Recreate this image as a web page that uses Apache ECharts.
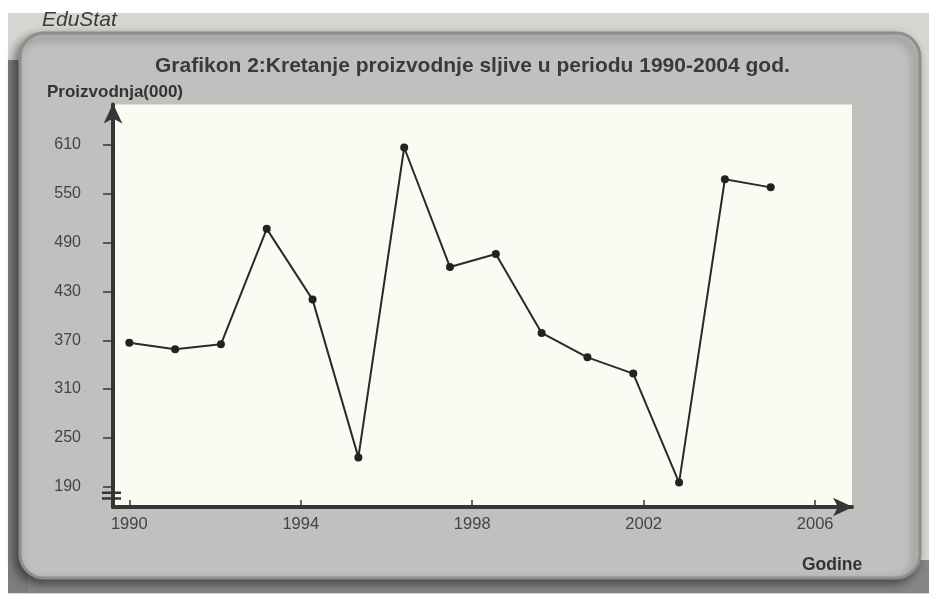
<!DOCTYPE html>
<html>
<head>
<meta charset="utf-8">
<script src="https://cdn.jsdelivr.net/npm/echarts@6/dist/echarts.min.js"></script>
<style>html,body{margin:0;padding:0;background:#fff;}#c{width:929px;height:597px;}</style>
</head>
<body>
<div id="c"></div>
<script>
// ---- data ----
const years = ['1990','1991','1992','1993','1994','1995','1996','1997','1998','1999','2000','2001','2002','2003','2004'];
const production = [367, 359, 365, 507, 420, 226, 607, 460, 476, 379, 349, 329, 195, 568, 558];
const yTickValues = [190, 250, 310, 370, 430, 490, 550, 610];
const xTickValues = [1990, 1994, 1998, 2002, 2006];
const titleText = 'Grafikon 2:Kretanje proizvodnje sljive u periodu 1990-2004 god.';
const yName = 'Proizvodnja(000)';
const xName = 'Godine';
const brand = 'EduStat';

const FONT = '"Liberation Sans", Arial, sans-serif';
const AX = '#363636';
const yMin = 165, yMax = 660;

const chart = echarts.init(document.getElementById('c'), null, {renderer: 'canvas'});

const option = {
  backgroundColor: '#ffffff',
  animation: false,
  title: [
    {text: titleText, left: 155, top: 56, padding: 0, textStyle: {fontFamily: FONT, fontSize: 21, fontWeight: 'bold', color: '#3a3a3a'}},
    {text: yName, left: 47, top: 84, padding: 0, textStyle: {fontFamily: FONT, fontSize: 17, fontWeight: 'bold', color: '#333'}},
    {text: xName, left: 802, top: 556, padding: 0, textStyle: {fontFamily: FONT, fontSize: 17.5, fontWeight: 'bold', color: '#333'}},
    {text: brand, left: 42, top: 10, padding: 0, textStyle: {fontFamily: FONT, fontSize: 21, fontStyle: 'italic', fontWeight: 'normal', color: '#3c3c3c'}}
  ],
  grid: [
    {left: 113, right: 77, top: 104.4, bottom: 90, show: true, backgroundColor: '#fbfaf3', borderWidth: 0},
    {left: 129.3, right: 158.3, top: 104.4, bottom: 90, show: false}
  ],
  xAxis: [
    {
      type: 'value', gridIndex: 0, min: 1989.62, max: 2006.86,
      axisLine: {show: true, lineStyle: {color: AX, width: 4}, symbol: ['none', 'arrow'], symbolSize: [14, 20], symbolOffset: [0, 1]},
      axisTick: {show: true, inside: true, length: 7, lineStyle: {color: AX, width: 1.5}, customValues: xTickValues},
      axisLabel: {show: true, margin: 9, fontFamily: FONT, fontSize: 16.5, color: '#444', customValues: xTickValues, formatter: v => String(v)},
      splitLine: {show: false}
    },
    {
      type: 'category', gridIndex: 1, data: years, boundaryGap: false, show: false
    }
  ],
  yAxis: [
    {
      type: 'value', gridIndex: 0, min: yMin, max: yMax,
      axisLine: {show: true, lineStyle: {color: AX, width: 4}, symbol: ['none', 'arrow'], symbolSize: [14, 20], symbolOffset: [0, 1]},
      axisTick: {show: true, inside: false, length: 10, lineStyle: {color: AX, width: 1.5}, customValues: yTickValues},
      axisLabel: {show: true, margin: 32, fontFamily: FONT, fontSize: 16, color: '#444', customValues: yTickValues},
      splitLine: {show: false}
    },
    {
      type: 'value', gridIndex: 1, min: yMin, max: yMax, show: false, splitLine: {show: false}
    }
  ],
  series: [{
    type: 'line', xAxisIndex: 1, yAxisIndex: 1, data: production,
    symbol: 'circle', symbolSize: 8, showSymbol: true,
    lineStyle: {color: '#2a2a2a', width: 2},
    itemStyle: {color: '#222'}, z: 5
  }],
  graphic: [
    {type: 'rect', z: -10, silent: true, shape: {x: 8, y: 13, width: 921, height: 581}, style: {fill: '#d5d5d1'}},
    {type: 'rect', z: -9, silent: true, shape: {x: 8, y: 560, width: 921, height: 33}, style: {fill: '#858583'}},
    {type: 'rect', z: -9, silent: true, shape: {x: 8, y: 60, width: 20, height: 533}, style: {fill: '#7d7d7b'}},
    {type: 'rect', z: -8, silent: true, shape: {x: 20, y: 33, width: 900, height: 545, r: 24},
      style: {fill: '#c0c0be', stroke: '#8e8e8c', lineWidth: 3, shadowColor: 'rgba(0,0,0,0.45)', shadowBlur: 10, shadowOffsetX: -4, shadowOffsetY: 4}}
  ]
};
chart.setOption(option);

// axis-break mark on the y axis, placed through the axis scale
const bx = chart.convertToPixel({xAxisIndex: 0}, 1989.62);
const b1 = chart.convertToPixel({yAxisIndex: 0}, 182.5);
const b2 = chart.convertToPixel({yAxisIndex: 0}, 175.5);
chart.setOption({graphic: option.graphic.concat([
  {type: 'line', z: 10, silent: true, shape: {x1: bx - 11, y1: b1, x2: bx + 8, y2: b1}, style: {stroke: AX, lineWidth: 2.5}},
  {type: 'line', z: 10, silent: true, shape: {x1: bx - 11, y1: b2, x2: bx + 8, y2: b2}, style: {stroke: AX, lineWidth: 2.5}}
])});
</script>
</body>
</html>
